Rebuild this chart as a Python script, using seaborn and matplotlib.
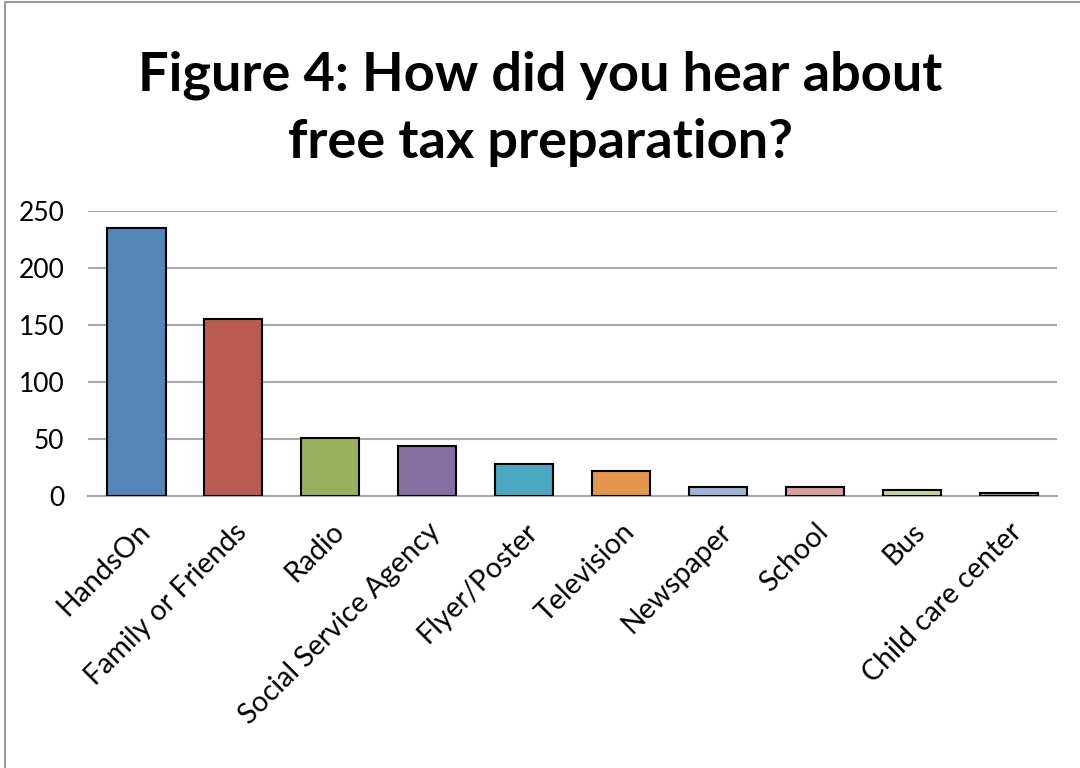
import matplotlib
matplotlib.use("Agg")
import matplotlib.pyplot as plt
import seaborn as sns
import pandas as pd
from matplotlib.patches import Rectangle

categories = ["HandsOn", "Family or Friends", "Radio", "Social Service Agency",
              "Flyer/Poster", "Television", "Newspaper", "School", "Bus",
              "Child care center"]
counts = [235, 155, 51, 44, 28, 22, 8, 8, 5, 3]
colors = ["#5585B8", "#B95B53", "#9BB05E", "#866EA0", "#4BA8C0",
          "#E5964E", "#A0B6D8", "#D9A09D", "#C4D6A0", "#A899B8"]
yticks = [0, 50, 100, 150, 200, 250]

sns.set_theme(style="white")
plt.rcParams["font.family"] = ["Lato", "DejaVu Sans"]

df = pd.DataFrame({"source": categories, "count": counts})

fig = plt.figure(figsize=(10.8, 7.68), dpi=100)
ax = fig.add_axes([0.0815, 0.354, 0.8975, 0.371])

sns.barplot(data=df, x="source", y="count", hue="source", palette=colors,
            order=categories, hue_order=categories, legend=False, saturation=1,
            width=0.6, edgecolor="black", linewidth=1.5, ax=ax, zorder=3)

ax.set_ylim(0, 250)
ax.set_xlim(-0.5, len(categories) - 0.5)
ax.set_yticks(yticks)
ax.set_yticklabels([str(v) for v in yticks], fontsize=19, color="black")
ax.yaxis.grid(True, color="#A8A8A8", linewidth=1.5, zorder=0)
ax.set_axisbelow(True)
for s in ["top", "right", "left"]:
    ax.spines[s].set_visible(False)
ax.spines["bottom"].set_color("#A8A8A8")
ax.spines["bottom"].set_linewidth(1.5)
ax.tick_params(axis="y", length=0, pad=17)
ax.set_xlabel("")
ax.set_ylabel("")
ax.set_xticks(range(len(categories)))
ax.set_xticklabels(categories, rotation=45, ha="right", rotation_mode="anchor",
                   fontsize=20.5, color="black")
ax.tick_params(axis="x", length=0, pad=16)

fig.text(0.5, 0.902, "Figure 4: How did you hear about", ha="center",
         va="center", fontsize=39, fontweight="bold", color="black")
fig.text(0.5, 0.815, "free tax preparation?", ha="center",
         va="center", fontsize=39, fontweight="bold", color="black")

fig.patches.append(Rectangle((0.005, -0.01), 1.2, 1.007, transform=fig.transFigure,
                             fill=False, edgecolor="#9A9A9A", linewidth=1.5))

fig.savefig("out.png", dpi=100)
